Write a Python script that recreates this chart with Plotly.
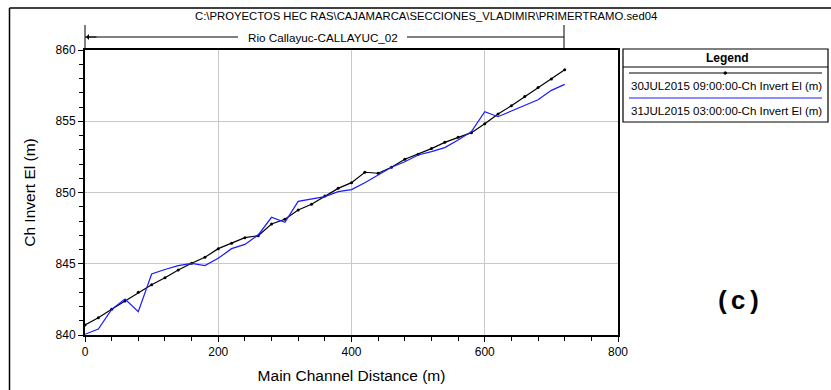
import plotly.graph_objects as go

# ---- data ----
dist = [0, 20, 40, 60, 80, 100, 120, 140, 160, 180, 200, 220, 240, 260, 280, 300,
        320, 340, 360, 380, 400, 420, 440, 460, 480, 500, 520, 540, 560, 580, 600,
        620, 640, 660, 680, 700, 720]
invert_30jul = [840.70, 841.21, 841.80, 842.39, 843.00, 843.53, 844.02, 844.56, 845.03, 845.45,
                846.06, 846.43, 846.83, 846.97, 847.79, 848.12, 848.77, 849.17, 849.75, 850.29,
                850.69, 851.42, 851.35, 851.77, 852.33, 852.68, 853.08, 853.52, 853.87, 854.20,
                854.83, 855.51, 856.09, 856.73, 857.36, 857.96, 858.62]
invert_31jul = [840.05, 840.42, 841.80, 842.53, 841.64, 844.28, 844.60, 844.87, 845.03, 844.87,
                845.38, 846.06, 846.36, 847.02, 848.26, 847.91, 849.38, 849.52, 849.71, 850.06,
                850.20, 850.69, 851.23, 851.77, 852.16, 852.63, 852.87, 853.15, 853.68, 854.27,
                855.67, 855.32, 855.72, 856.12, 856.51, 857.17, 857.59]
series_names = ["30JUL2015 09:00:00-Ch Invert El (m)", "31JUL2015 03:00:00-Ch Invert El (m)"]
x_ticks = [0, 200, 400, 600, 800]
y_ticks = [840, 845, 850, 855, 860]
file_title = "C:\\PROYECTOS HEC RAS\\CAJAMARCA\\SECCIONES_VLADIMIR\\PRIMERTRAMO.sed04"
reach_label = "Rio Callayuc-CALLAYUC_02"
panel_label = "(c)"

W, H = 831, 390
ML, MR, MT, MB = 85, 213, 50, 55
PW, PH = W - ML - MR, H - MT - MB
FONT = "Liberation Sans, Arial, sans-serif"


def px(x):
    return (x - ML) / PW


def py(y):
    return (H - MB - y) / PH


fig = go.Figure()
fig.add_trace(go.Scatter(x=dist, y=invert_30jul, mode="lines+markers", name=series_names[0],
                         line=dict(color="black", width=1.2), marker=dict(color="black", size=3)))
fig.add_trace(go.Scatter(x=dist, y=invert_31jul, mode="lines", name=series_names[1],
                         line=dict(color="#1a1aff", width=1.2)))

shapes = []
annotations = []
lk = dict(color="black", width=1)


def text(x, y, s, size=11, xanchor="center", family=FONT, **kw):
    annotations.append(dict(xref="paper", yref="paper", x=px(x), y=py(y), text=s, showarrow=False,
                            xanchor=xanchor, yanchor="middle",
                            font=dict(family=family, size=size, color="black"), **kw))


# outer frame
shapes.append(dict(type="line", xref="paper", yref="paper", x0=px(9.5), x1=px(831), y0=py(8), y1=py(8), line=dict(color="black", width=1.5)))
shapes.append(dict(type="line", xref="paper", yref="paper", x0=px(9.5), x1=px(9.5), y0=py(8), y1=py(390), line=dict(color="black", width=1.5)))
# reach marker
shapes.append(dict(type="line", xref="paper", yref="paper", x0=px(85), x1=px(238), y0=py(37), y1=py(37), line=lk))
shapes.append(dict(type="line", xref="paper", yref="paper", x0=px(407), x1=px(564), y0=py(37), y1=py(37), line=lk))
shapes.append(dict(type="line", xref="paper", yref="paper", x0=px(85), x1=px(85), y0=py(25), y1=py(50), line=lk))
shapes.append(dict(type="line", xref="paper", yref="paper", x0=px(564), x1=px(564), y0=py(25), y1=py(50), line=lk))
annotations.append(dict(xref="paper", yref="paper", x=px(86), y=py(37), ax=12, ay=0, text="",
                        showarrow=True, arrowhead=1, arrowsize=1, arrowwidth=1, arrowcolor="black"))
text(323, 37, reach_label, size=11.7)
text(426, 16, file_title, size=11.3)
# legend box
shapes.append(dict(type="rect", xref="paper", yref="paper", x0=px(623), x1=px(828), y0=py(49), y1=py(122),
                   line=dict(color="black", width=1.2), fillcolor="white"))
shapes.append(dict(type="line", xref="paper", yref="paper", x0=px(623), x1=px(828), y0=py(67), y1=py(67), line=lk))
shapes.append(dict(type="line", xref="paper", yref="paper", x0=px(629), x1=px(822), y0=py(73), y1=py(73), line=lk))
shapes.append(dict(type="circle", xref="paper", yref="paper", x0=px(724), x1=px(726.5), y0=py(71.8), y1=py(74.3),
                   line=dict(color="black", width=1), fillcolor="black"))
shapes.append(dict(type="line", xref="paper", yref="paper", x0=px(629), x1=px(822), y0=py(98), y1=py(98),
                   line=dict(color="#1a1aff", width=1)))
text(727, 58, "<b>Legend</b>", size=12)
text(629, 86, series_names[0], size=11.5, xanchor="left")
text(629, 111, series_names[1], size=11.5, xanchor="left")
text(738, 302, "<b>" + panel_label + "</b>", size=26, family="Liberation Mono, Courier New, monospace")

fig.update_layout(
    width=W, height=H, margin=dict(l=ML, r=MR, t=MT, b=MB, autoexpand=False),
    paper_bgcolor="white", plot_bgcolor="white", showlegend=False,
    font=dict(family=FONT, size=12, color="black"),
    shapes=shapes, annotations=annotations,
)
fig.update_xaxes(range=[0, 800], tickvals=x_ticks, ticks="outside", ticklen=5, tickcolor="black",
                 showgrid=True, gridcolor="#c8c8c8", gridwidth=1, zeroline=False, automargin=False,
                 showline=True, linecolor="black", linewidth=2, mirror=True,
                 minor=dict(dtick=40, ticks="outside", ticklen=4, tickcolor="black", showgrid=False),
                 tickfont=dict(size=12), title=dict(text="Main Channel Distance (m)", font=dict(size=15.5), standoff=12))
fig.update_yaxes(range=[840, 860], tickvals=y_ticks, ticks="outside", ticklen=5, tickcolor="black",
                 showgrid=True, gridcolor="#c8c8c8", gridwidth=1, zeroline=False, automargin=False,
                 showline=True, linecolor="black", linewidth=2, mirror=True,
                 minor=dict(dtick=1, ticks="outside", ticklen=4, tickcolor="black", showgrid=False),
                 tickfont=dict(size=12), title=dict(text="Ch Invert El (m)", font=dict(size=15.5), standoff=16))

fig.write_html("out.html", config={"displayModeBar": False},
               post_script="document.body.style.margin='0';document.body.style.overflow='hidden';")
